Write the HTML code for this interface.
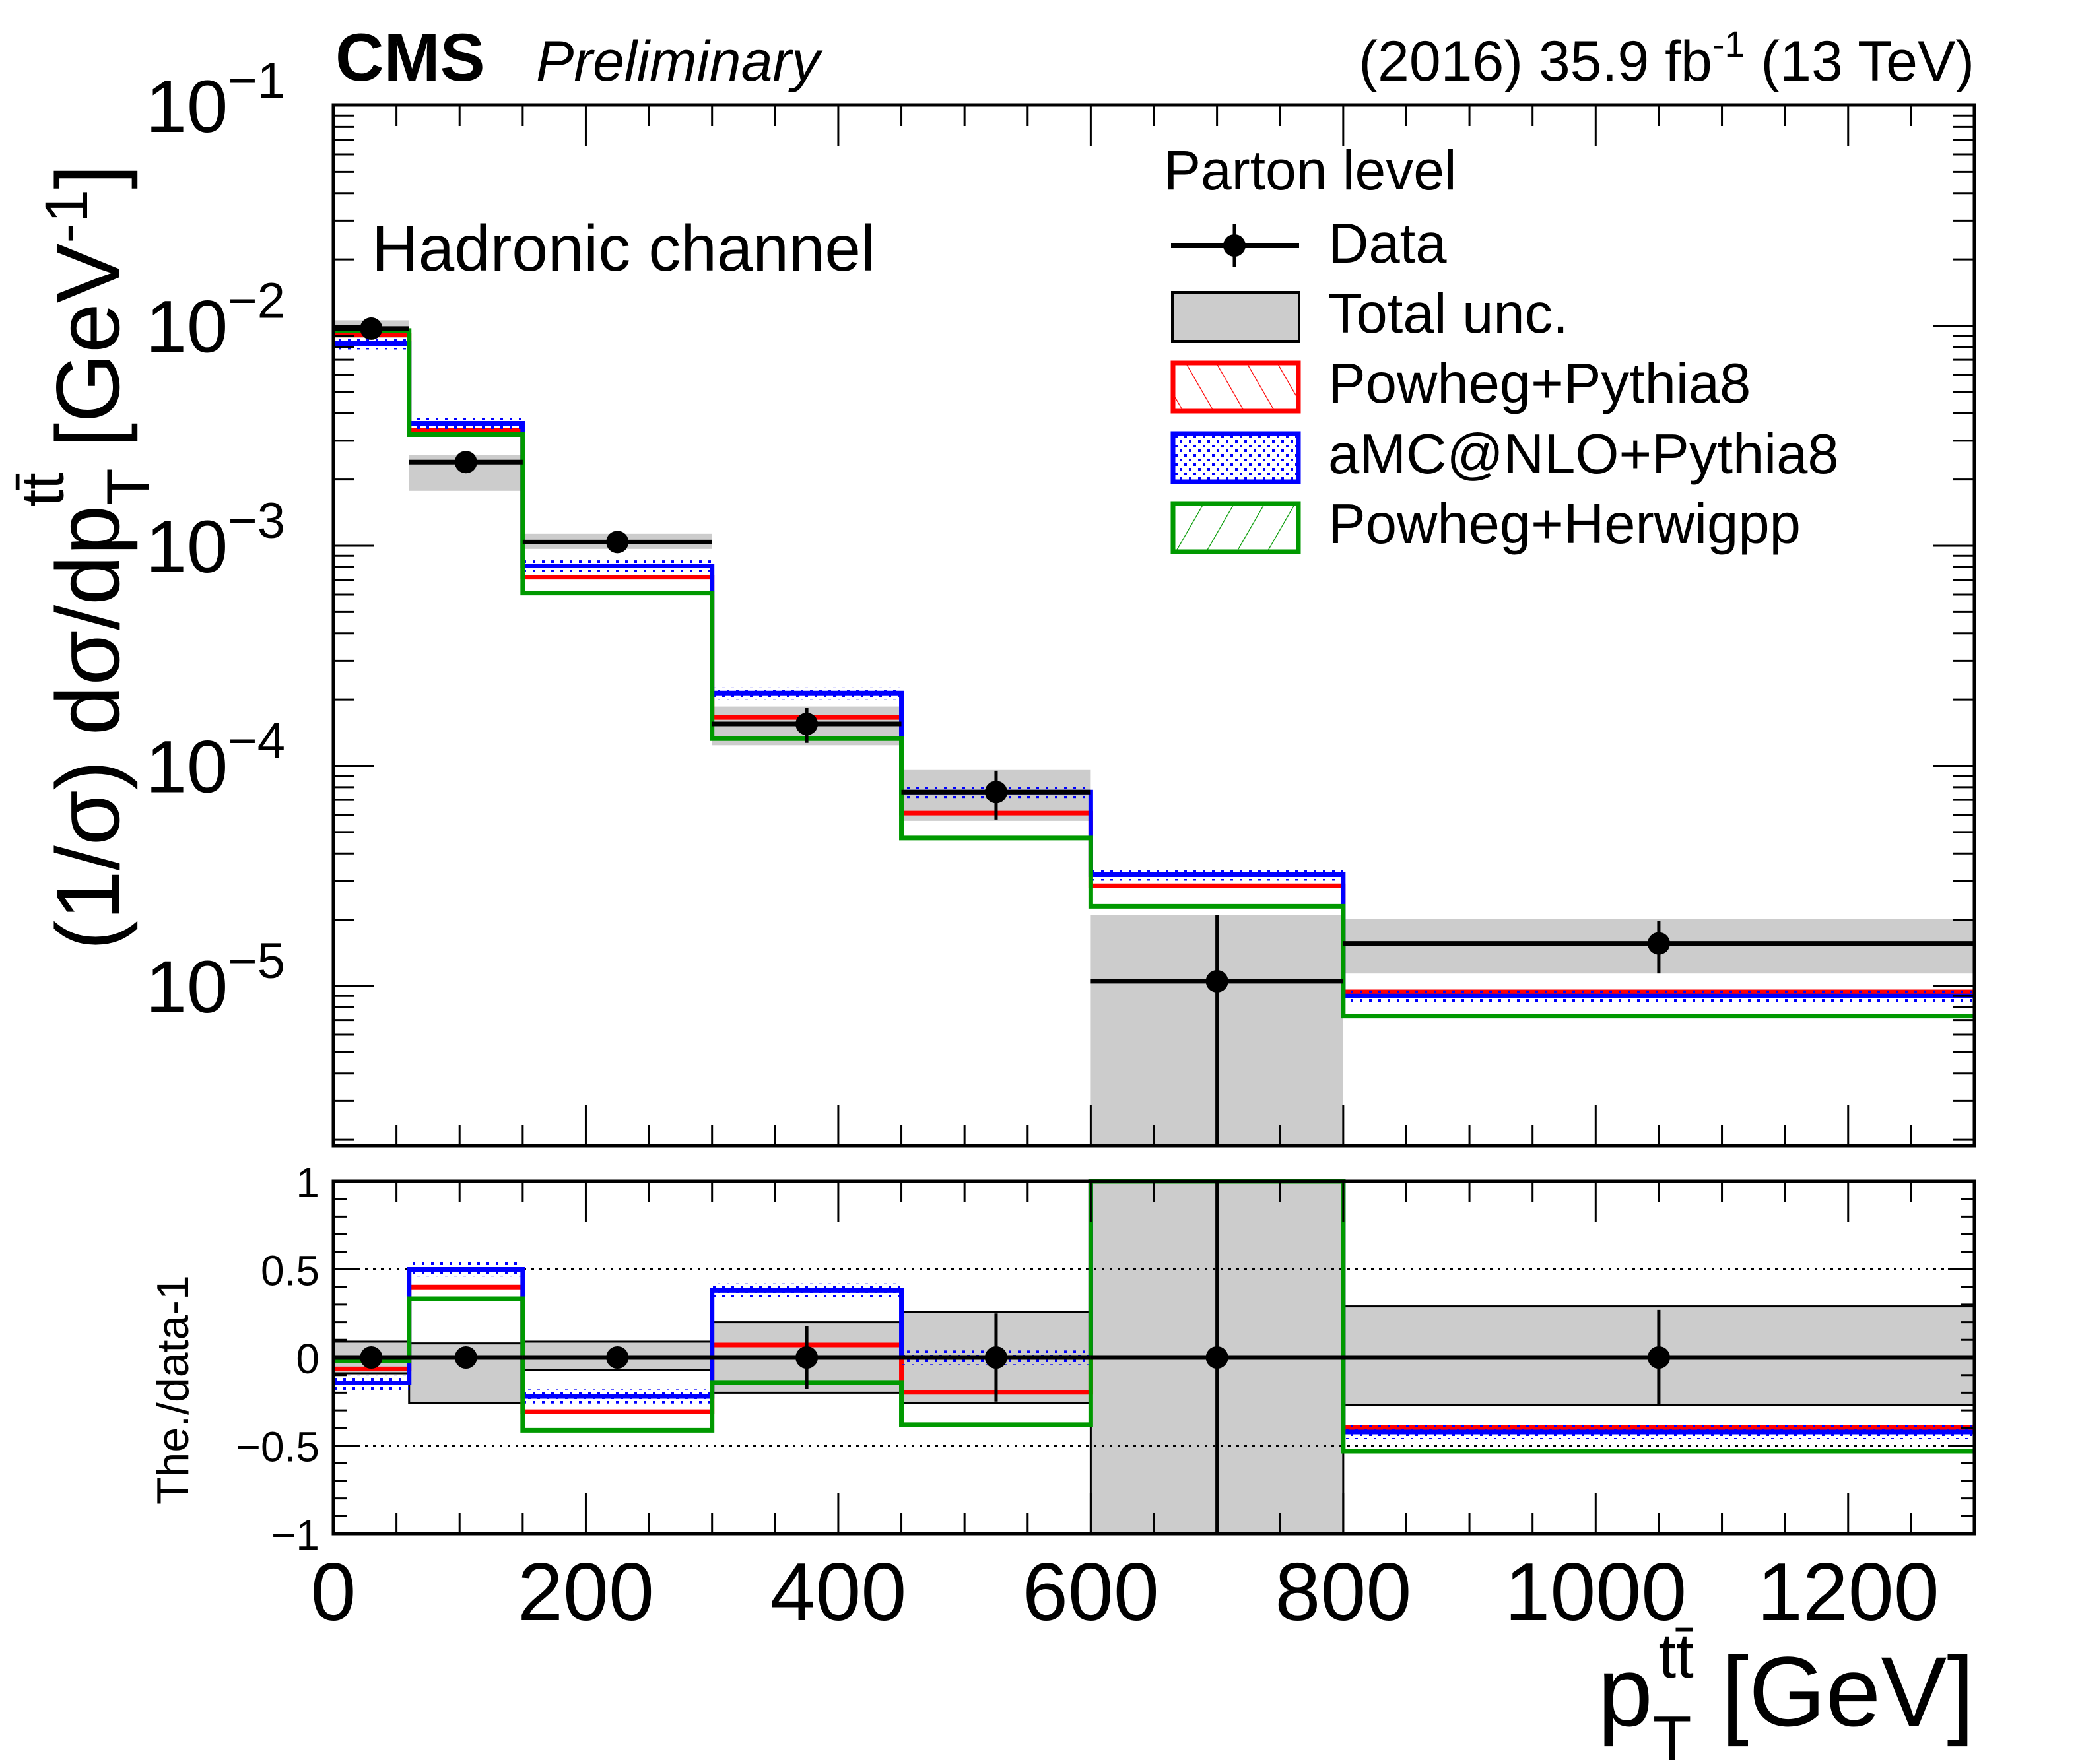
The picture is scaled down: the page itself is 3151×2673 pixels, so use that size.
<!DOCTYPE html>
<html><head><meta charset="utf-8">
<style>
html,body{margin:0;padding:0;background:#fff;}
svg{display:block;font-family:"Liberation Sans",Arial,sans-serif;}
</style></head>
<body>
<svg id="chart" xmlns="http://www.w3.org/2000/svg" width="3151" height="2673" viewBox="0 0 3151 2673">
<defs>
<pattern id="hatchRed" width="40" height="40" patternUnits="userSpaceOnUse" patternTransform="rotate(-30)"><line x1="0" y1="0" x2="0" y2="40" stroke="#f00" stroke-width="2.5"/></pattern>
<pattern id="hatchGreen" width="40" height="40" patternUnits="userSpaceOnUse" patternTransform="rotate(30)"><line x1="0" y1="0" x2="0" y2="40" stroke="#090" stroke-width="2.5"/></pattern>
<pattern id="dotsBlue" width="14" height="14" patternUnits="userSpaceOnUse"><rect x="2" y="2" width="4" height="4" fill="#00f"/><rect x="9" y="9" width="4" height="4" fill="#00f"/></pattern>
</defs>
<g id="upper"></g>
<g id="lower"></g>
<g id="texts">
<text x="508" y="122" font-size="102" font-weight="bold">CMS</text>
<text x="812" y="122" font-size="86" font-style="italic">Preliminary</text>
<text x="2991" y="122" font-size="86" text-anchor="end">(2016) 35.9 fb<tspan dy="-36" font-size="56">-1</tspan><tspan dy="36"> (13 TeV)</tspan></text>
<text x="563" y="410" font-size="98">Hadronic channel</text>
<text transform="translate(180,1440) rotate(-90)" font-size="136">(1/σ) dσ/dp<tspan dy="46" font-size="92">T</tspan><tspan dx="-58" dy="-130" font-size="92">tt̄</tspan><tspan dy="84"> [GeV</tspan><tspan dy="-48" font-size="92">-1</tspan><tspan dy="48">]</tspan></text>
<text transform="translate(285,2280) rotate(-90)" font-size="68">The./data-1</text>
<text x="2991" y="2615" font-size="150" text-anchor="end">p<tspan dy="52" font-size="96">T</tspan><tspan dx="-50" dy="-125" font-size="96">tt̄</tspan><tspan dy="73"> [GeV]</tspan></text>
</g>
<g id="legend">
<text x="1763" y="287" font-size="84">Parton level</text>
<g>
<line x1="1774" y1="372" x2="1968" y2="372" stroke="#000" stroke-width="8"/>
<line x1="1870" y1="340" x2="1870" y2="404" stroke="#000" stroke-width="5"/>
<ellipse cx="1870" cy="372" rx="17" ry="17" fill="#000"/>
<text x="2012" y="398" font-size="85">Data</text></g>
<g>
<rect x="1776" y="443" width="192" height="74" fill="#ccc" stroke="#000" stroke-width="4"/>
<text x="2012" y="504" font-size="85">Total unc.</text></g>
<g>
<rect x="1777" y="550" width="190" height="73" fill="url(#hatchRed)" stroke="#f00" stroke-width="7"/>
<text x="2012" y="610" font-size="85">Powheg+Pythia8</text></g>
<g>
<rect x="1777" y="657" width="190" height="73" fill="url(#dotsBlue)" stroke="#00f" stroke-width="7"/>
<text x="2012" y="717" font-size="85">aMC@NLO+Pythia8</text></g>
<g>
<rect x="1777" y="763" width="190" height="73" fill="url(#hatchGreen)" stroke="#090" stroke-width="7"/>
<text x="2012" y="823" font-size="85">Powheg+Herwigpp</text></g>
</g>
</svg>
<script>
// ---- data ----
const binEdges = [0, 60, 150, 300, 450, 600, 800, 1300];
const dataValues = [9.7e-3, 2.4e-3, 1.04e-3, 1.55e-4, 7.6e-5, 1.05e-5, 1.56e-5];
const dataErr = [0.03, 0.04, 0.03, 0.18, 0.25, 1.0, 0.27];
const uncUp = [0.09, 0.08, 0.09, 0.20, 0.26, 1.0, 0.29];
const uncDown = [0.09, 0.26, 0.07, 0.20, 0.26, 1.0, 0.27];
const powhegPythia = [9.07e-3, 3.36e-3, 7.2e-4, 1.66e-4, 6.1e-5, 2.85e-5, 9.4e-6];
const amcPythia = [8.3e-3, 3.6e-3, 8.1e-4, 2.14e-4, 7.6e-5, 3.2e-5, 9.0e-6];
const powhegHerwig = [9.5e-3, 3.2e-3, 6.1e-4, 1.33e-4, 4.7e-5, 2.3e-5, 7.3e-6];
const xTickLabels = ['0', '200', '400', '600', '800', '1000', '1200'];
const yDecades = [-1, -2, -3, -4, -5];
const ratioTickLabels = ['1', '0.5', '0', '−0.5', '−1'];
const ratioTickValues = [1, 0.5, 0, -0.5, -1];

const NS = 'http://www.w3.org/2000/svg';
const X0 = 505, X1 = 2991, XMAX = 1300;
const UT = 159, UB = 1736, LT0 = 160, DEC = 333.5;
const RT = 1790, RB = 2324;
const xs = v => X0 + (X1 - X0) * v / XMAX;
const yLog = v => { if (v <= 0) return UB; const y = LT0 + (-1 - Math.log10(v)) * DEC; return Math.min(UB, Math.max(UT, y)); };
const yR = v => { const y = RT + (1 - v) * (RB - RT) / 2; return Math.min(RB, Math.max(RT, y)); };

function mk(parent, tag, attrs) {
  const e = document.createElementNS(NS, tag);
  for (const k in attrs) e.setAttribute(k, attrs[k]);
  parent.appendChild(e);
  return e;
}
const up = document.getElementById('upper');
const lo = document.getElementById('lower');
const colors = ['#f00', '#00f', '#090'];
const models = [powhegPythia, amcPythia, powhegHerwig];
const modelNames = ['powheg-pythia8', 'amcatnlo-pythia8', 'powheg-herwigpp'];

function drawPanel(g, yf, isRatio) {
  const n = dataValues.length;
  for (let i = 0; i < n; i++) {
    const top = isRatio ? yf(uncUp[i]) : yf(dataValues[i] * (1 + uncUp[i]));
    const bot = isRatio ? yf(-uncDown[i]) : yf(dataValues[i] * (1 - uncDown[i]));
    const r = mk(g, 'rect', {x: xs(binEdges[i]), y: top, width: xs(binEdges[i+1]) - xs(binEdges[i]), height: bot - top, fill: '#ccc', stroke: isRatio ? '#000' : 'none', 'stroke-width': 3});
    
    
  }
  if (isRatio) {
    [0.5, -0.5].forEach(v => {
      const l = mk(g, 'line', {x1: X0, x2: X1, y1: yf(v), y2: yf(v), stroke: '#000', 'stroke-width': 3, 'stroke-dasharray': '4 8'});
      
      
    });
  }
  for (let m = 0; m < 3; m++) {
    const arr = models[m];
    let d = '';
    for (let i = 0; i < n; i++) {
      const v = isRatio ? arr[i] / dataValues[i] - 1 : arr[i];
      const y = yf(v);
      d += (i === 0 ? 'M' : 'L') + xs(binEdges[i]) + ',' + y + 'L' + xs(binEdges[i+1]) + ',' + y;
    }
    if (m === 1) {
      for (let i = 0; i < n; i++) {
        const v = isRatio ? arr[i] / dataValues[i] - 1 : arr[i];
        const a = isRatio ? yf(v + 0.04) : yf(arr[i] * 1.06);
        const b = isRatio ? yf(v - 0.04) : yf(arr[i] * 0.94);
        const r = mk(g, 'rect', {x: xs(binEdges[i]), y: a, width: xs(binEdges[i+1]) - xs(binEdges[i]), height: Math.max(0, b - a), fill: 'url(#dotsBlue)'});
        
        
      }
    }
    const p = mk(g, 'path', {d: d, fill: 'none', stroke: colors[m], 'stroke-width': 7});
    
    
  }
  for (let i = 0; i < n; i++) {
    const xc = xs((binEdges[i] + binEdges[i+1]) / 2);
    const v = isRatio ? 0 : dataValues[i];
    const y = yf(v);
    const ya = isRatio ? yf(dataErr[i]) : yf(dataValues[i] * (1 + dataErr[i]));
    const yb = isRatio ? yf(-dataErr[i]) : yf(dataValues[i] * (1 - dataErr[i]));
    const grp = mk(g, 'g', {});
    
    
    mk(grp, 'line', {x1: xs(binEdges[i]), x2: xs(binEdges[i+1]), y1: y, y2: y, stroke: '#000', 'stroke-width': 7});
    mk(grp, 'line', {x1: xc, x2: xc, y1: ya, y2: yb, stroke: '#000', 'stroke-width': 5});
    mk(grp, 'circle', {cx: xc, cy: y, r: 17, fill: '#000'});
  }
}

drawPanel(up, yLog, false);
drawPanel(lo, yR, true);

function frame(g, top, bot, name) {
  const r = mk(g, 'rect', {x: X0, y: top, width: X1 - X0, height: bot - top, fill: 'none', stroke: '#000', 'stroke-width': 5});
  
  
  for (let v = 0; v <= XMAX; v += 50) {
    const len = v % 200 === 0 ? 62 : 32;
    const x = xs(v);
    mk(g, 'line', {x1: x, x2: x, y1: top, y2: top + len, stroke: '#000', 'stroke-width': 3});
    mk(g, 'line', {x1: x, x2: x, y1: bot, y2: bot - len, stroke: '#000', 'stroke-width': 3});
  }
}
frame(up, UT, UB, 'upper-frame');
frame(lo, RT, RB, 'ratio-frame');

for (let dcd = -6; dcd <= -1; dcd++) {
  for (let k = 1; k <= 9; k++) {
    const v = k * Math.pow(10, dcd);
    const y = LT0 + (-1 - Math.log10(v)) * DEC;
    if (y < UT - 1 || y > UB) continue;
    const len = k === 1 ? 62 : 32;
    mk(up, 'line', {x1: X0, x2: X0 + len, y1: y, y2: y, stroke: '#000', 'stroke-width': 3});
    mk(up, 'line', {x1: X1, x2: X1 - len, y1: y, y2: y, stroke: '#000', 'stroke-width': 3});
  }
}
yDecades.forEach(d => {
  const y = LT0 + (-1 - d) * DEC;
  const t = mk(up, 'text', {x: 432, y: y + 40, 'font-size': 112, 'text-anchor': 'end'});
  
  
  t.innerHTML = '10<tspan dy="-52" font-size="76">−' + (-d) + '</tspan>';
});
for (let i = -10; i <= 10; i++) {
  const v = i / 10;
  const y = yR(v);
  const len = i % 5 === 0 ? 40 : 20;
  mk(lo, 'line', {x1: X0, x2: X0 + len, y1: y, y2: y, stroke: '#000', 'stroke-width': 3});
  mk(lo, 'line', {x1: X1, x2: X1 - len, y1: y, y2: y, stroke: '#000', 'stroke-width': 3});
}
ratioTickValues.forEach((v, i) => {
  const t = mk(lo, 'text', {x: 484, y: yR(v) + 24, 'font-size': 64, 'text-anchor': 'end'});
  
  
  t.textContent = ratioTickLabels[i];
});
xTickLabels.forEach((s, i) => {
  const t = mk(lo, 'text', {x: xs(i * 200), y: 2455, 'font-size': 124, 'text-anchor': 'middle'});
  
  
  t.textContent = s;
});
</script>
</body></html>
